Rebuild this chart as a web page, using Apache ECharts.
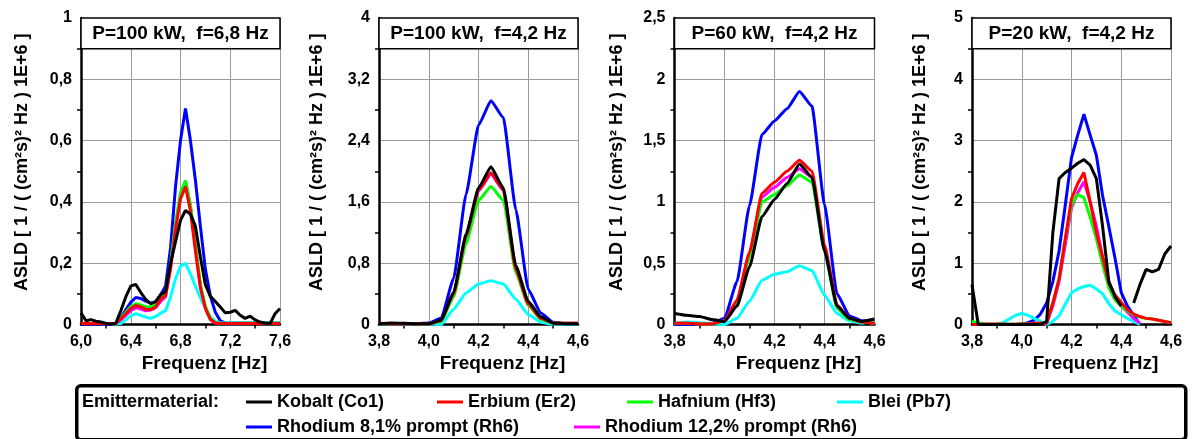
<!DOCTYPE html>
<html>
<head>
<meta charset="utf-8">
<script src="https://cdn.jsdelivr.net/npm/echarts/dist/echarts.min.js"></script>
<style>
  html, body { margin: 0; padding: 0; background: #ffffff; }
  #chart { width: 1193px; height: 439px; }
</style>
</head>
<body>
<div id="chart"></div>
<script>
// ---- Spectral density curves (ASLD) for four operating points ----

// Panel 1: P=100 kW, f=6,8 Hz
const p1Freq = [6.00, 6.04, 6.08, 6.12, 6.16, 6.20, 6.24, 6.28, 6.32, 6.36, 6.40, 6.44, 6.48, 6.52, 6.56, 6.60, 6.64, 6.68, 6.72, 6.76, 6.80,
                6.84, 6.88, 6.92, 6.96, 7.00, 7.04, 7.08, 7.12, 7.16, 7.20, 7.24, 7.28, 7.32, 7.36, 7.40, 7.44, 7.48, 7.52, 7.56, 7.60];
const p1Kobalt  = [0.038, 0.012, 0.016, 0.011, 0.008, 0.004, 0.002, 0.004, 0.045, 0.09, 0.125, 0.131, 0.105, 0.082, 0.068, 0.075, 0.097, 0.108, 0.2, 0.27, 0.34,
                   0.372, 0.36, 0.32, 0.22, 0.13, 0.092, 0.075, 0.057, 0.038, 0.04, 0.046, 0.03, 0.02, 0.027, 0.015, 0.008, 0.005, 0.003, 0.035, 0.052];
const p1Erbium  = [0.003, 0.003, 0.003, 0.003, 0.003, 0.003, 0.003, 0.004, 0.018, 0.035, 0.052, 0.062, 0.058, 0.05, 0.049, 0.057, 0.082, 0.095, 0.18, 0.31, 0.41,
                   0.45, 0.37, 0.24, 0.12, 0.052, 0.016, 0.005, 0.003, 0.003, 0.003, 0.003, 0.003, 0.003, 0.003, 0.003, 0.003, 0.003, 0.003, 0.003, 0.003];
const p1Hafnium = [0.003, 0.003, 0.003, 0.003, 0.003, 0.003, 0.003, 0.004, 0.02, 0.04, 0.058, 0.068, 0.064, 0.058, 0.057, 0.065, 0.09, 0.1, 0.2, 0.33, 0.43,
                   0.47, 0.39, 0.26, 0.13, 0.06, 0.02, 0.007, 0.004, 0.004, 0.004, 0.004, 0.004, 0.004, 0.004, 0.004, 0.004, 0.004, 0.004, 0.004, 0.004];
const p1Blei    = [0.003, 0.003, 0.003, 0.003, 0.003, 0.003, 0.003, 0.002, 0.003, 0.015, 0.028, 0.035, 0.03, 0.024, 0.02, 0.026, 0.037, 0.045, 0.09, 0.15, 0.19,
                   0.2, 0.165, 0.125, 0.088, 0.055, 0.025, 0.01, 0.006, 0.005, 0.005, 0.005, 0.005, 0.005, 0.005, 0.005, 0.005, 0.005, 0.005, 0.005, 0.005];
const p1Rh81    = [0.002, 0.002, 0.002, 0.002, 0.002, 0.002, 0.002, 0.004, 0.022, 0.048, 0.072, 0.088, 0.085, 0.076, 0.07, 0.072, 0.097, 0.125, 0.25, 0.45, 0.6,
                   0.705, 0.6, 0.47, 0.32, 0.18, 0.093, 0.04, 0.012, 0.005, 0.005, 0.005, 0.005, 0.005, 0.005, 0.005, 0.005, 0.005, 0.005, 0.005, 0.005];
const p1Rh122   = [0.003, 0.003, 0.003, 0.003, 0.003, 0.003, 0.003, 0.003, 0.015, 0.03, 0.045, 0.055, 0.05, 0.045, 0.047, 0.055, 0.075, 0.09, 0.19, 0.32, 0.42,
                   0.468, 0.385, 0.25, 0.125, 0.055, 0.018, 0.005, 0.003, 0.003, 0.003, 0.003, 0.003, 0.003, 0.003, 0.003, 0.003, 0.003, 0.003, 0.003, 0.003];

// Panel 2: P=100 kW, f=4,2 Hz
const p2Freq    = [3.80, 3.85, 3.90, 3.95, 4.00, 4.05, 4.10, 4.15, 4.20, 4.25, 4.30, 4.35, 4.40, 4.45, 4.50, 4.55, 4.60];
const p2Kobalt  = [0.01, 0.02, 0.015, 0.01, 0.01, 0.06, 0.42, 1.18, 1.78, 2.06, 1.78, 0.77, 0.3, 0.1, 0.02, 0.01, 0.01];
const p2Erbium  = [0.015, 0.01, 0.01, 0.01, 0.01, 0.05, 0.4, 1.15, 1.75, 1.98, 1.76, 0.72, 0.27, 0.08, 0.02, 0.015, 0.015];
const p2Hafnium = [0.01, 0.01, 0.01, 0.01, 0.01, 0.04, 0.36, 1.06, 1.62, 1.8, 1.62, 0.68, 0.25, 0.07, 0.02, 0.015, 0.015];
const p2Blei    = [0.01, 0.01, 0.01, 0.01, 0.005, 0.0, 0.2, 0.41, 0.53, 0.57, 0.53, 0.33, 0.13, 0.03, 0.005, 0.005, 0.005];
const p2Rh81    = [0.01, 0.01, 0.01, 0.01, 0.02, 0.08, 0.6, 1.7, 2.6, 2.92, 2.7, 1.5, 0.46, 0.15, 0.03, 0.01, 0.01];
const p2Rh122   = [0.015, 0.01, 0.01, 0.01, 0.01, 0.05, 0.4, 1.14, 1.74, 1.96, 1.75, 0.7, 0.27, 0.08, 0.02, 0.015, 0.015];

// Panel 3: P=60 kW, f=4,2 Hz
const p3Freq    = [3.80, 3.85, 3.90, 3.95, 4.00, 4.05, 4.10, 4.15, 4.20, 4.25, 4.30, 4.35, 4.40, 4.45, 4.50, 4.55, 4.60];
const p3Kobalt  = [0.09, 0.075, 0.065, 0.04, 0.025, 0.15, 0.47, 0.88, 1.02, 1.15, 1.31, 1.2, 0.6, 0.15, 0.05, 0.025, 0.045];
const p3Erbium  = [0.01, 0.01, 0.005, 0.005, 0.03, 0.2, 0.59, 1.07, 1.16, 1.25, 1.34, 1.25, 0.65, 0.16, 0.05, 0.02, 0.01];
const p3Hafnium = [0.01, 0.01, 0.005, 0.005, 0.03, 0.17, 0.55, 1.0, 1.06, 1.13, 1.22, 1.16, 0.6, 0.13, 0.04, 0.02, 0.01];
const p3Blei    = [0.005, 0.02, 0.015, 0.005, 0.0, 0.05, 0.19, 0.36, 0.41, 0.43, 0.48, 0.44, 0.24, 0.09, 0.03, 0.01, 0.03];
const p3Rh81    = [0.0, 0.0, 0.005, 0.01, 0.05, 0.35, 0.97, 1.55, 1.66, 1.76, 1.9, 1.78, 0.98, 0.25, 0.07, 0.03, 0.02];
const p3Rh122   = [0.01, 0.01, 0.005, 0.005, 0.03, 0.19, 0.58, 1.04, 1.12, 1.2, 1.27, 1.2, 0.62, 0.15, 0.05, 0.02, 0.01];

// Panel 4: P=20 kW, f=4,2 Hz (null = no value)
const p4Freq    = [3.800, 3.825, 3.850, 3.875, 3.900, 3.925, 3.950, 3.975, 4.000, 4.025, 4.050, 4.075, 4.100, 4.125, 4.150, 4.175, 4.200,
                   4.225, 4.250, 4.275, 4.300, 4.325, 4.350, 4.375, 4.400, 4.425, 4.450, 4.475, 4.500, 4.525, 4.550, 4.575, 4.600];
const p4Kobalt  = [0.65, 0.0, 0.0, 0.0, 0.0, 0.0, 0.0, 0.0, 0.0, 0.0, 0.0, 0.0, 0.05, 1.5, 2.38, 2.48, 2.55,
                   2.63, 2.69, 2.6, 2.38, 1.6, 0.7, 0.45, 0.3, null, 0.35, 0.65, 0.9, 0.86, 0.9, 1.15, 1.28];
const p4Erbium  = [0.0, 0.0, 0.01, 0.01, 0.01, 0.01, 0.005, 0.005, 0.01, 0.01, 0.02, 0.02, 0.02, 0.35, 0.74, 1.4, 2.05,
                   2.3, 2.48, 2.0, 1.5, 1.1, 0.68, 0.48, 0.36, 0.24, 0.17, 0.13, 0.1, 0.09, 0.07, 0.05, 0.03];
const p4Hafnium = [0.05, 0.03, 0.01, 0.005, 0.005, 0.005, 0.005, 0.005, 0.01, 0.01, 0.02, 0.02, 0.03, 0.35, 0.75, 1.4, 1.95,
                   2.12, 2.07, 1.75, 1.4, 0.98, 0.6, 0.4, 0.3, 0.22, 0.16, 0.12, 0.1, 0.09, 0.07, 0.05, 0.03];
const p4Blei    = [null, null, null, null, 0.0, 0.03, 0.09, 0.15, 0.18, 0.15, 0.1, 0.05, 0.0, 0.05, 0.14, 0.33, 0.52,
                   0.58, 0.62, 0.64, 0.58, 0.5, 0.34, 0.22, 0.16, 0.1, 0.05, 0.0, null, null, null, null, null];
const p4Rh81    = [0.0, 0.0, 0.0, 0.0, 0.0, 0.0, 0.0, 0.0, 0.01, 0.03, 0.07, 0.17, 0.35, 0.7, 1.2, 1.95, 2.72,
                   3.09, 3.43, 3.09, 2.76, 2.1, 1.6, 1.08, 0.52, 0.3, 0.15, 0.0, null, null, null, null, null];
const p4Rh122   = [0.0, 0.0, 0.0, 0.0, 0.0, 0.0, 0.0, 0.0, 0.0, 0.01, 0.02, 0.02, 0.02, 0.3, 0.7, 1.3, 1.9,
                   2.15, 2.33, 2.0, 1.6, 1.1, 0.7, 0.45, 0.3, 0.2, 0.1, 0.02, null, null, null, null, null];

// Axis ranges and panel headers
const panelTitles = ['P=100 kW,  f=6,8 Hz', 'P=100 kW,  f=4,2 Hz', 'P=60 kW,  f=4,2 Hz', 'P=20 kW,  f=4,2 Hz'];
const xMin  = [6.0, 3.8, 3.8, 3.8];
const xMax  = [7.6, 4.6, 4.6, 4.6];
const xStep = [0.4, 0.2, 0.2, 0.2];
const yMax  = [1, 4, 2.5, 5];
const yStep = [0.2, 0.8, 0.5, 1];

// Emitter materials (legend names) and their colours
const materials = ['Kobalt (Co1)', 'Erbium (Er2)', 'Hafnium (Hf3)', 'Blei (Pb7)', 'Rhodium 8,1% prompt (Rh6)', 'Rhodium 12,2% prompt (Rh6)'];
const materialColors = ['#000000', '#ff0000', '#00ff00', '#00ffff', '#0000ff', '#ff00ff'];
const yAxisTitle = 'ASLD [ 1 / ( (cm²s)² Hz ) 1E+6 ]';
const xAxisTitle = 'Frequenz [Hz]';
const legendTitle = 'Emittermaterial:';

const panels = [
  { freq: p1Freq, values: [p1Kobalt, p1Erbium, p1Hafnium, p1Blei, p1Rh81, p1Rh122] },
  { freq: p2Freq, values: [p2Kobalt, p2Erbium, p2Hafnium, p2Blei, p2Rh81, p2Rh122] },
  { freq: p3Freq, values: [p3Kobalt, p3Erbium, p3Hafnium, p3Blei, p3Rh81, p3Rh122] },
  { freq: p4Freq, values: [p4Kobalt, p4Erbium, p4Hafnium, p4Blei, p4Rh81, p4Rh122] }
];

// ---- Layout ----
const FONT = '"Liberation Sans", Arial, Helvetica, sans-serif';
const gridLeft  = [81, 379, 674.5, 972];
const gridWidth = [199, 199, 200, 199];
const gridTop = 18, gridHeight = 306.5;
const yNameGap = [50, 53, 48, 43];
const lineSmooth = [0, 0.15, 0.15, 0];
const drawOrder = [7, 6, 5, 3, 2, 4];   // z of each material: Kobalt on top

const comma = s => s.replace('.', ',');

const grid = [], xAxis = [], yAxis = [], series = [];
panels.forEach((p, i) => {
  grid.push({ left: gridLeft[i], top: gridTop, width: gridWidth[i], height: gridHeight, containLabel: false });
  xAxis.push({
    gridIndex: i, type: 'value', min: xMin[i], max: xMax[i], interval: xStep[i],
    name: xAxisTitle, nameLocation: 'middle', nameGap: 23,
    nameTextStyle: { fontFamily: FONT, fontWeight: 'bold', fontSize: 19, color: '#000', padding: [0, 0, 0, 48] },
    axisLine: { show: true, onZero: false, lineStyle: { color: '#000', width: 2.5 } },
    axisTick: { show: false },
    minorTick: { show: true, splitNumber: 2, length: 4, lineStyle: { color: '#000', width: 1.5 } },
    axisLabel: { margin: 9, fontFamily: FONT, fontWeight: 'bold', fontSize: 16, color: '#000',
                 formatter: v => comma(v.toFixed(1)) },
    splitLine: { show: true, lineStyle: { color: '#9a9a9a', width: 1 } }
  });
  yAxis.push({
    gridIndex: i, type: 'value', min: 0, max: yMax[i], interval: yStep[i],
    name: yAxisTitle, nameLocation: 'middle', nameGap: yNameGap[i], nameRotate: 90,
    nameTextStyle: { fontFamily: FONT, fontWeight: 'bold', fontSize: 18, color: '#000', padding: [0, 0, 0, 18] },
    axisLine: { show: true, onZero: false, lineStyle: { color: '#000', width: 2.5 } },
    axisTick: { show: false },
    minorTick: { show: true, splitNumber: 2, length: 4, lineStyle: { color: '#000', width: 1.5 } },
    axisLabel: { margin: 9, fontFamily: FONT, fontWeight: 'bold', fontSize: 16, color: '#000',
                 formatter: v => comma(String(+v.toFixed(2))) },
    splitLine: { show: true, lineStyle: { color: '#9a9a9a', width: 1 } }
  });
  p.values.forEach((vals, m) => {
    const s = {
      name: materials[m], type: 'line', xAxisIndex: i, yAxisIndex: i,
      data: p.freq.map((f, k) => [f, vals[k] === null ? '-' : vals[k]]),
      showSymbol: false, symbol: 'none', smooth: lineSmooth[i], smoothMonotone: 'x',
      z: drawOrder[m],
      lineStyle: { color: materialColors[m], width: 3 },
      itemStyle: { color: materialColors[m] },
      silent: true
    };
    if (m === 0) {
      // header box across the top tenth of the plot
      s.markArea = {
        silent: true,
        itemStyle: { color: '#ffffff', borderColor: '#000', borderWidth: 1.5 },
        label: { show: true, position: 'inside', formatter: panelTitles[i],
                 fontFamily: FONT, fontWeight: 'bold', fontSize: 19, color: '#000' },
        data: [[{ xAxis: xMin[i], yAxis: yMax[i] * 0.9 }, { xAxis: xMax[i], yAxis: yMax[i] }]]
      };
    }
    series.push(s);
  });
});

// legend: one component per entry, arranged in two rows
const legendPos = [[246, 392], [437, 392], [627, 392], [837, 392], [246, 417], [574, 417]];
const legend = materials.map((name, m) => ({
  data: [name], left: legendPos[m][0], top: legendPos[m][1], padding: 0,
  icon: 'rect', itemWidth: 26, itemHeight: 3, selectedMode: false,
  textStyle: { fontFamily: FONT, fontWeight: 'bold', fontSize: 18, color: '#000', lineHeight: 20 }
}));

const chart = echarts.init(document.getElementById('chart'), null, { renderer: 'canvas' });
chart.setOption({
  animation: false,
  backgroundColor: '#ffffff',
  grid, xAxis, yAxis, series, legend,
  graphic: [
    { type: 'rect', left: 75, top: 384, z: 0,
      shape: { width: 1109, height: 54, r: 4 },
      style: { fill: '#ffffff', stroke: '#000', lineWidth: 3.5 } },
    { type: 'text', left: 82, top: 392, z: 10,
      style: { text: legendTitle, font: 'bold 18px ' + FONT, fill: '#000', lineHeight: 20 } }
  ]
});
</script>
</body>
</html>
